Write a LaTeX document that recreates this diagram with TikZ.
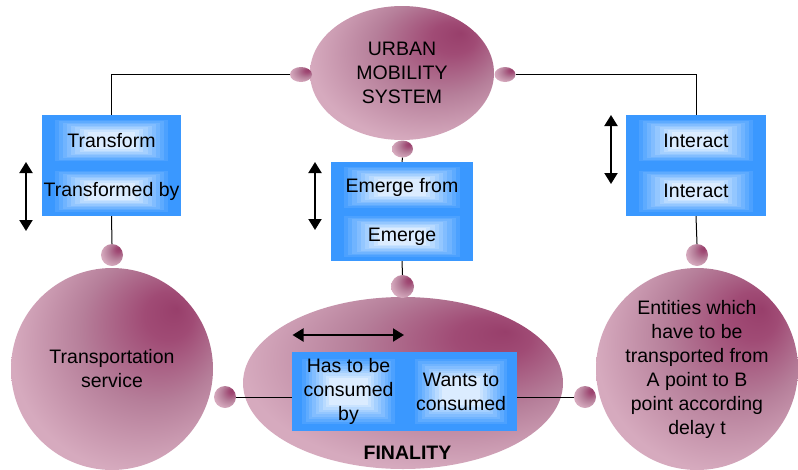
\documentclass[tikz,border=0pt]{standalone}
\usepackage{fontspec}
\setmainfont{Liberation Sans}
\usetikzlibrary{arrows.meta,shapes.geometric,calc}
\definecolor{pklight}{HTML}{D6AABE}
\definecolor{pkmid}{HTML}{B67F9A}
\definecolor{pkdark}{HTML}{983F6B}
\definecolor{pkdk2}{HTML}{A04B75}
\definecolor{bxdark}{HTML}{3A98FF}
\definecolor{bxlight}{HTML}{DDEDFF}
\pgfdeclareradialshading{plum}{\pgfpoint{16bp}{15bp}}{color(0bp)=(pkdark); color(6bp)=(pkdk2); color(18bp)=(pkmid); color(31bp)=(pklight); color(50bp)=(pklight)}
\newcommand\txtfont{\fontsize{19.5}{24}\selectfont}
\tikzset{
  blob/.style={circle, inner sep=0pt, shading=plum, align=center, font=\txtfont},
  oval/.style={ellipse, inner sep=0pt, shading=plum, align=center, font=\txtfont},
  bx/.style={rectangle, inner sep=0pt, align=center, font=\txtfont,
    path picture={
      \foreach \i in {0,...,11}{
        \pgfmathsetmacro\bxt{\i*0.03}
        \pgfmathtruncatemacro\bxp{max(0,(\i-2)*11)}
        \fill[bxlight!\bxp!bxdark] ($(path picture bounding box.south west)!\bxt!(path picture bounding box.north east)$) rectangle ($(path picture bounding box.north east)!\bxt!(path picture bounding box.south west)$);
      }
    }},
  conn/.style={draw=black, line width=1pt},
  dbl/.style={draw=black, line width=2pt, {Triangle[width=13pt,length=11pt]}-{Triangle[width=13pt,length=11pt]}}
}
\begin{document}
\begin{tikzpicture}[x=1pt,y=-1pt]
\useasboundingbox (0,0) rectangle (798,469);
% big shapes
\node[oval, minimum width=184, minimum height=134] (ums) at (402,73) {URBAN\\MOBILITY\\SYSTEM};
\node[blob, minimum size=202] (ts) at (112,369) {Transportation\\service};
\node[blob, minimum size=202] (ent) at (697,369) {Entities which\\have to be\\transported from\\A point to B\\point according\\delay t};
\node[oval, minimum width=320, minimum height=172] (fin) at (403,383) {};
\node[font=\txtfont\bfseries] (finlbl) at (407.5,453) {FINALITY};
% small bubbles
\node[oval, minimum width=22, minimum height=15] (umsL) at (301,74.5) {};
\node[oval, minimum width=21, minimum height=15] (umsR) at (505,74.5) {};
\node[oval, minimum width=21, minimum height=17] (umsB) at (402.5,149) {};
\node[blob, minimum size=22] (trB) at (112,255) {};
\node[blob, minimum size=22] (inB) at (697,255) {};
\node[blob, minimum size=23] (emB) at (402.5,286.5) {};
\node[blob, minimum size=22] (finL) at (225,397) {};
\node[blob, minimum size=22] (finR) at (585,397) {};
% boxes
\node[bx, minimum width=139, minimum height=51] (tr1) at (111.5,140.5) {Transform};
\node[bx, minimum width=139, minimum height=50] (tr2) at (111.5,191) {Transformed by};
\node[bx, minimum width=142, minimum height=50] (em1) at (402,187) {Emerge from};
\node[bx, minimum width=142, minimum height=49] (em2) at (402,236.5) {Emerge};
\node[bx, minimum width=140, minimum height=51] (in1) at (696,140.5) {Interact};
\node[bx, minimum width=140, minimum height=50] (in2) at (696,191) {Interact};
\node[bx, minimum width=113, minimum height=79] (has) at (348.5,391.5) {Has to be\\consumed\\by};
\node[bx, minimum width=112, minimum height=79] (wants) at (461,391.5) {Wants to\\consumed};
% connectors
\draw[conn] (umsL.west) -| (tr1.north);
\draw[conn] (umsR.east) -| (in1.north);
\draw[conn] (umsB.south) -- (em1.north);
\draw[conn] (tr2.south) -- (trB.north);
\draw[conn] (in2.south) -- (inB.north);
\draw[conn] (em2.south) -- (emB.north);
\draw[conn] (finL.east) -- (finL.east -| has.west);
\draw[conn] (wants.east |- finR.west) -- (finR.west);
% double arrows
\coordinate (a1t) at (26,162);
\coordinate (a1b) at (26,231);
\coordinate (a2t) at (315,162);
\coordinate (a2b) at (315,230);
\coordinate (a3t) at (611,115);
\coordinate (a3b) at (611,184);
\coordinate (a4l) at (292.5,335);
\coordinate (a4r) at (404,335);
\draw[dbl] (a1t) -- (a1b);
\draw[dbl] (a2t) -- (a2b);
\draw[dbl] (a3t) -- (a3b);
\draw[dbl] (a4l) -- (a4r);
\end{tikzpicture}
\end{document}
